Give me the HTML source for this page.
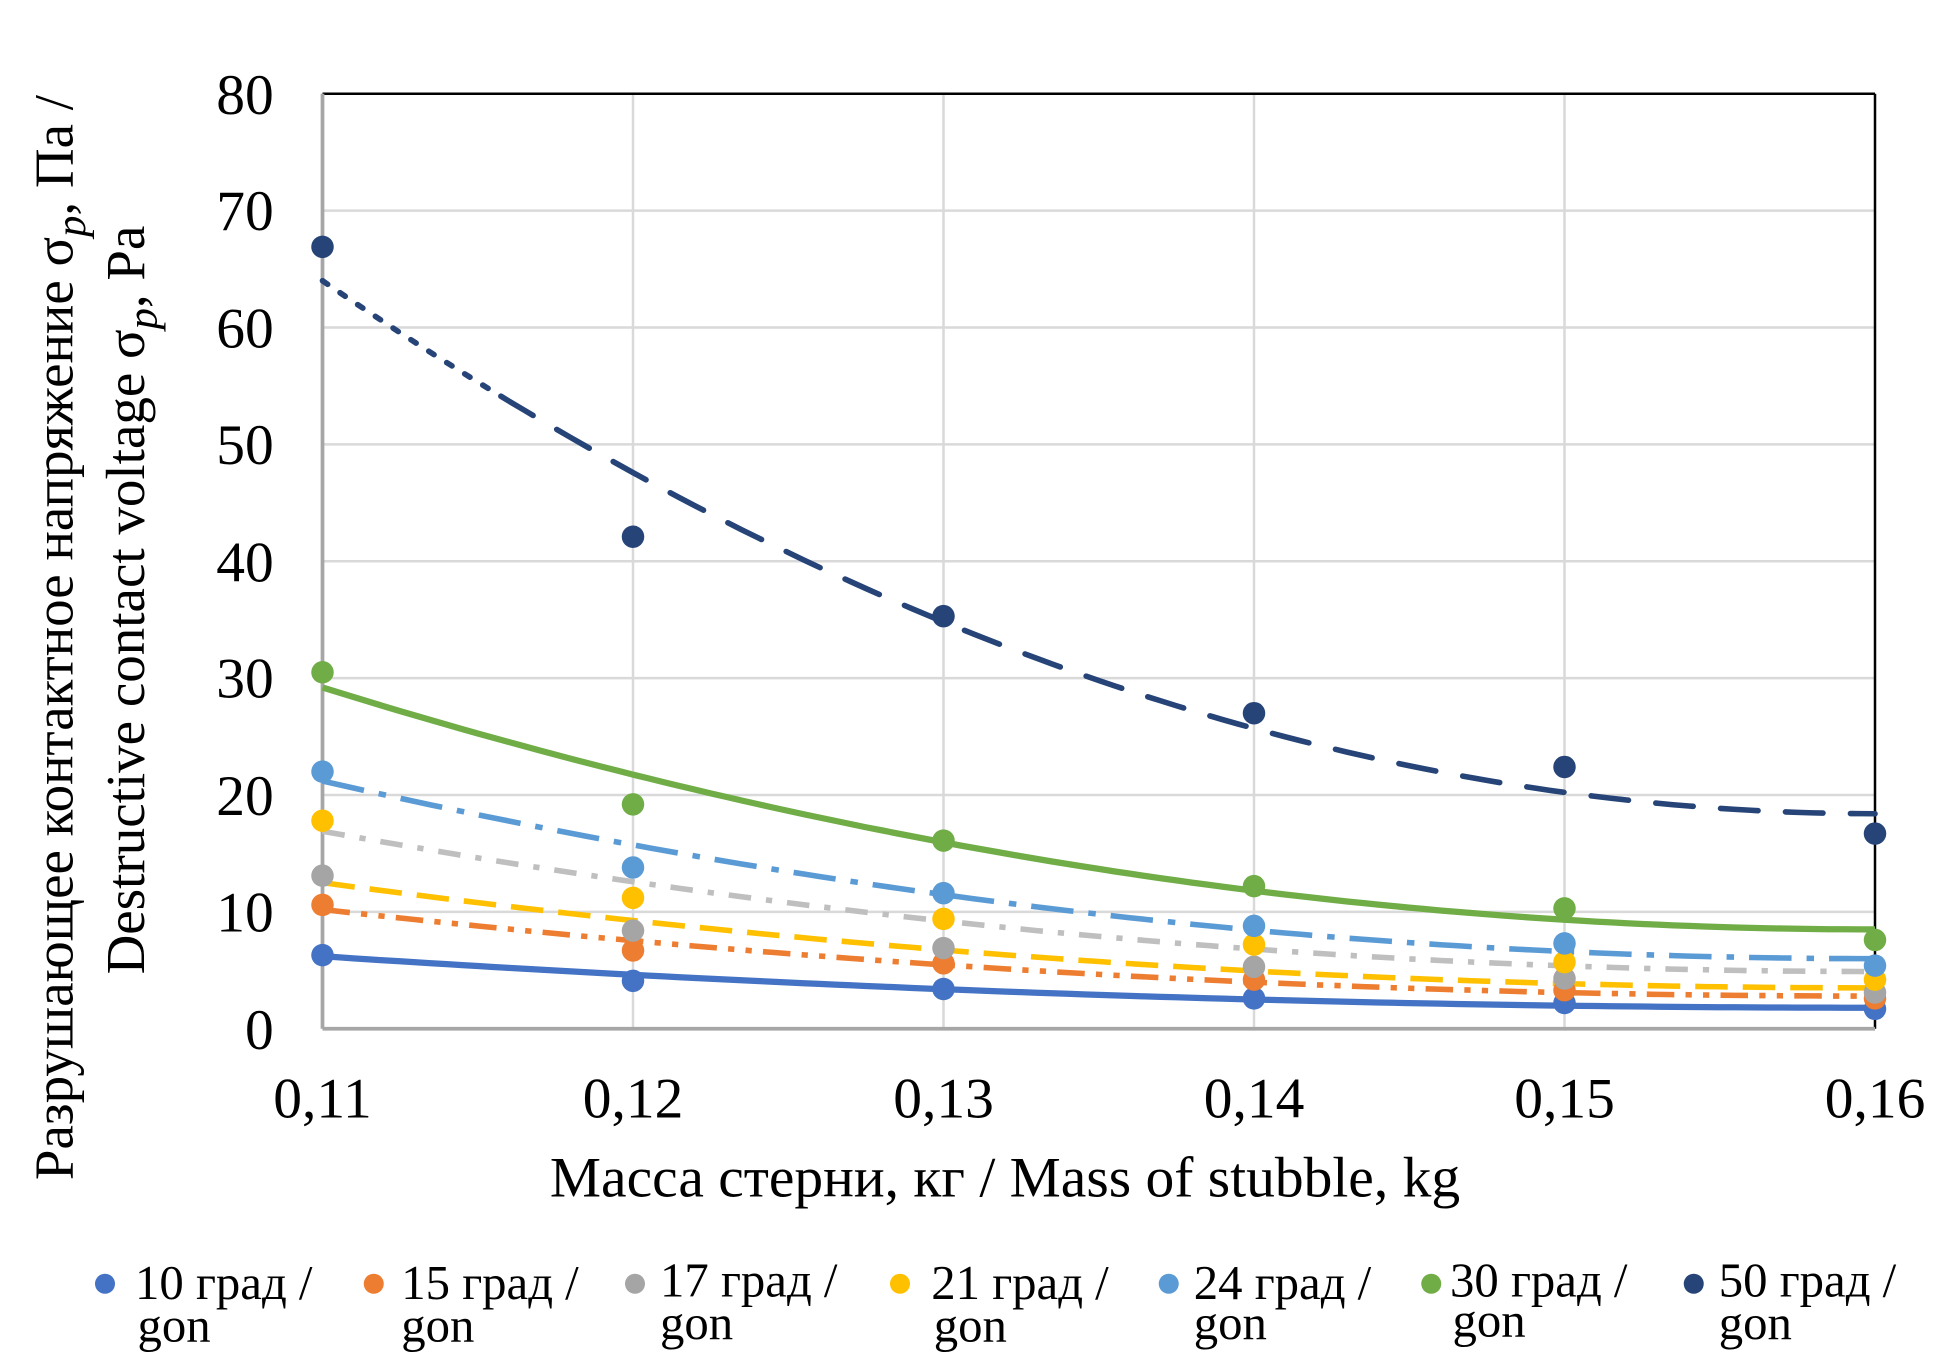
<!DOCTYPE html>
<html><head><meta charset="utf-8"><style>
html,body{margin:0;padding:0;background:#fff}
svg{display:block}
</style></head><body>
<svg id="c" width="1950" height="1362" viewBox="0 0 1560 1089.6" preserveAspectRatio="none" xmlns="http://www.w3.org/2000/svg" font-family="'Liberation Serif','Times New Roman',serif">
<g stroke="#d9d9d9" stroke-width="2">
<line x1="258" y1="729.5" x2="1500" y2="729.5"/>
<line x1="258" y1="636" x2="1500" y2="636"/>
<line x1="258" y1="542.5" x2="1500" y2="542.5"/>
<line x1="258" y1="449" x2="1500" y2="449"/>
<line x1="258" y1="355.5" x2="1500" y2="355.5"/>
<line x1="258" y1="262" x2="1500" y2="262"/>
<line x1="258" y1="168.5" x2="1500" y2="168.5"/>
<line x1="506.4" y1="75" x2="506.4" y2="823"/>
<line x1="754.8" y1="75" x2="754.8" y2="823"/>
<line x1="1003.2" y1="75" x2="1003.2" y2="823"/>
<line x1="1251.6" y1="75" x2="1251.6" y2="823"/>
</g>
<line x1="258" y1="75" x2="1500" y2="75" stroke="#000" stroke-width="2"/>
<line x1="1500" y1="75" x2="1500" y2="823" stroke="#000" stroke-width="2"/>
<line x1="258" y1="75" x2="258" y2="823" stroke="#a6a6a6" stroke-width="3"/>
<line x1="258" y1="823" x2="1500" y2="823" stroke="#a6a6a6" stroke-width="3"/>
<g font-size="46" text-anchor="end" fill="#000">
<text x="219" y="839">0</text><text x="219" y="745">10</text><text x="219" y="652">20</text><text x="219" y="558">30</text><text x="219" y="465">40</text><text x="219" y="371">50</text><text x="219" y="278">60</text><text x="219" y="184">70</text><text x="219" y="91">80</text>
</g>
<g font-size="46" text-anchor="middle" fill="#000">
<text x="258" y="894">0,11</text><text x="506.4" y="894">0,12</text><text x="754.8" y="894">0,13</text><text x="1003.2" y="894">0,14</text><text x="1251.6" y="894">0,15</text><text x="1500" y="894">0,16</text>
<text x="804" y="957" font-size="46">Масса стерни, кг / Mass of stubble, kg</text>
<text transform="translate(58,510) rotate(-90)" font-size="44">Разрушающее контактное напряжение σ<tspan font-style="italic" dy="10" font-size="34">p</tspan><tspan dy="-10">, Па /</tspan></text>
<text transform="translate(115,480) rotate(-90)" font-size="44">Destructive contact voltage σ<tspan font-style="italic" dy="10" font-size="34">p</tspan><tspan dy="-10">, Pa</tspan></text>
</g>
<g id="lines" fill="none" stroke-width="4.5"></g>
<g id="pts"></g>
<g font-size="39" fill="#000">
<circle cx="84" cy="1027" r="8" fill="#4472C4"/><text x="108" y="1039">10 град /</text><text x="110" y="1073">gon</text>
<circle cx="299" cy="1027" r="8" fill="#ED7D31"/><text x="321" y="1039">15 град /</text><text x="321" y="1073">gon</text>
<circle cx="508" cy="1027" r="8" fill="#A5A5A5"/><text x="528" y="1037">17 град /</text><text x="528" y="1071">gon</text>
<circle cx="720" cy="1027" r="8" fill="#FFC000"/><text x="745" y="1039">21 град /</text><text x="747" y="1073">gon</text>
<circle cx="935" cy="1027" r="8" fill="#5B9BD5"/><text x="955" y="1039">24 град /</text><text x="955" y="1071">gon</text>
<circle cx="1145" cy="1027" r="8" fill="#70AD47"/><text x="1160" y="1037">30 град /</text><text x="1162" y="1069">gon</text>
<circle cx="1355" cy="1027" r="8" fill="#264478"/><text x="1375" y="1037">50 град /</text><text x="1375" y="1071">gon</text>
</g>
</svg>
<script>
var NS="http://www.w3.org/2000/svg";
function X(i){return 258+i*248.4}
function Y(v){return 823-v*9.35}
var S=[
{c:"#4472C4",d:[6.3,4.1,3.4,2.6,2.2,1.7],f:6.2,t:1.8,da:"",w:5},
{c:"#ED7D31",d:[10.6,6.7,5.6,4.2,3.3,2.6],f:10.2,t:2.8,da:"22 9 5 9 5 9",w:4.5},
{c:"#BFBFBF",d:[13.1,8.4,6.9,5.3,4.3,3.1],f:16.9,t:4.9,da:"18 12 5 12",w:4.5},
{c:"#FFC000",d:[17.8,11.2,9.4,7.2,5.7,4.2],f:12.5,t:3.5,da:"26 12",w:4.5},
{c:"#5B9BD5",d:[22.0,13.8,11.6,8.8,7.3,5.4],f:21.2,t:6.0,da:"34 12 6 12",w:4.5},
{c:"#70AD47",d:[30.5,19.2,16.1,12.2,10.3,7.6],f:29.2,t:8.5,da:"",w:5},
{c:"#264478",d:[66.9,42.1,35.3,27.0,22.4,16.7],f:64,t:18.4,da:"",w:4.5}
];
var lg=document.getElementById("lines"),pg=document.getElementById("pts");
S.forEach(function(s,k){
  var pts=[];
  for(var j=0;j<=100;j++){var u=j/100;
    var v=s.t+(s.f-s.t)*Math.pow(1-u,2);
    pts.push(X(u*5).toFixed(1)+","+Y(v).toFixed(1));}
  var p=document.createElementNS(NS,"polyline");
  p.setAttribute("points",pts.join(" "));p.setAttribute("stroke",s.c);p.setAttribute("stroke-width",s.w);
  if(k==6){p.setAttribute("stroke-dasharray","5 12 5 12 5 12 5 12 5 12 5 12 5 12 5 12 5 12 5 12 30 22 30 22 30 22 30 22 30 22 30 22 30 22 30 22 30 22 30 22 30 22 30 22 30 22 30 22 30 22 30 22 30 22 30 22 30 22 30 22 30 22 30 22 30 22 30 22 30 22 30 22 30 22 30 22 30 22 30 22 30 22 30 22");p.setAttribute("stroke-linecap","round");}
  else if(s.da)p.setAttribute("stroke-dasharray",s.da);
  lg.appendChild(p);
  s.d.forEach(function(v,i){var c=document.createElementNS(NS,"circle");c.setAttribute("cx",X(i));c.setAttribute("cy",Y(v));c.setAttribute("r",9);c.setAttribute("fill",k==2?"#A5A5A5":s.c);pg.appendChild(c);});
});
</script>
</body></html>
